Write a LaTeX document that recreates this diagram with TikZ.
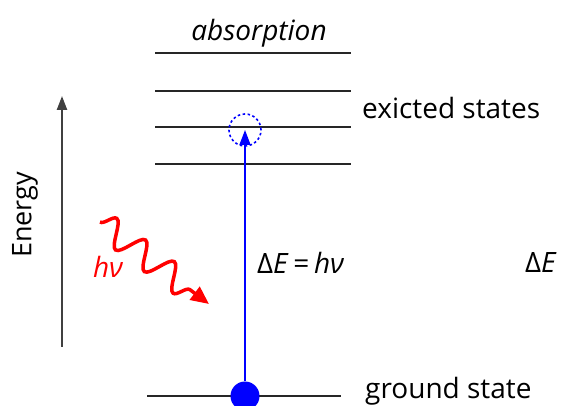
\documentclass[tikz,border=0pt]{standalone}
\usepackage{fontspec}
\setmainfont{Open Sans}
\usetikzlibrary{arrows.meta, decorations.pathmorphing}

\begin{document}
\begin{tikzpicture}[
  x=1pt, y=-1pt,
  every node/.style={font=\fontsize{28}{32}\selectfont, inner sep=0pt},
  level/.style={line width=1.8pt, black!85},
  energyarrow/.style={-{Triangle[length=14pt, width=10pt]}, line width=2.3pt, black!75},
  transition/.style={-{Triangle[length=15pt, width=11pt]}, line width=1.6pt, blue},
  photon/.style={-{Triangle[length=18pt, width=16pt]}, red, line width=3.5pt,
    decorate, decoration={snake, amplitude=13pt, segment length=36pt, post length=14pt}},
  label/.style={anchor=west}
]
\clip (0,0) rectangle (563,406);
\useasboundingbox (0,0) rectangle (563,406);

% energy levels
\foreach \y in {53,91,127,164}
  \draw[level] (155,\y) -- (351,\y);
\draw[level] (147,396) -- (341,396);

% electron before and after
\node[circle, fill=blue, minimum size=29pt] (ground) at (245,396) {};
\node[circle, draw=blue, dash pattern=on 2.5pt off 2.5pt, line width=1.6pt, minimum size=32pt] (excited) at (245,130) {};

% labels
\node[font=\fontsize{28}{32}\selectfont\itshape] (absorb) at (259,33) {absorption};
\node[label] (exc) at (362,108) {exicted states};
\node[label] (gnd) at (365,391) {ground state};
\node[label] (delta) at (257,263) {\textup{Δ}\textit{E}\,=\,\textit{hν}};
\node[label] (delta2) at (525,263) {\textup{Δ}\textit{E}};

% energy axis
\coordinate (ebottom) at (62,347);
\coordinate (etop) at (62,96);
\draw[energyarrow] (ebottom) -- (etop);
\node[rotate=90, font=\fontsize{27}{30}\selectfont] (energy) at (25,215) {Energy};

% photon
\coordinate (phstart) at (100,222);
\coordinate (phend) at (209,304);
\draw[photon] (phstart) -- (phend);
\node[red, font=\fontsize{28}{32}\selectfont\itshape] (hnu) at (108,267) {hν};

% transition
\draw[transition] (ground) -- (excited.center);

\end{tikzpicture}
\end{document}
